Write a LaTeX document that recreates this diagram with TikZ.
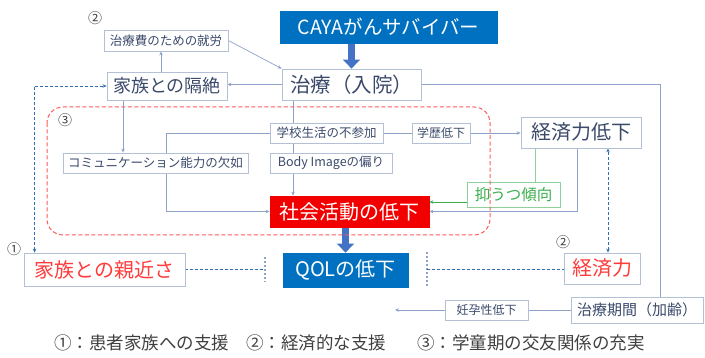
\documentclass[tikz,border=0pt]{standalone}
\usepackage{fontspec}
\setmainfont{Noto Sans CJK JP}
\usetikzlibrary{arrows.meta,calc}
\pgfdeclarelayer{bg}
\pgfsetlayers{bg,main}
\definecolor{boxc}{HTML}{B4C0D6}
\definecolor{textc}{HTML}{3B4A6B}
\definecolor{linec}{HTML}{8EA2C8}
\definecolor{bluefill}{HTML}{0070C0}
\definecolor{redfill}{HTML}{F20000}
\definecolor{redtext}{HTML}{FF3B3B}
\definecolor{greentext}{HTML}{3CB050}
\definecolor{greenbox}{HTML}{8FD19A}
\definecolor{dashblue}{HTML}{2F6DB5}
\definecolor{arrowblue}{HTML}{4472C4}
\definecolor{reddash}{HTML}{FF5A5A}
\definecolor{labc}{HTML}{404040}
\newcommand{\fs}[1]{\fontsize{#1}{#1}\selectfont}
\begin{document}
\begin{tikzpicture}[x=1pt,y=-1pt,
  bx/.style={draw=boxc, line width=0.8pt, fill=white, inner sep=0pt, text=textc},
  arr/.style={draw=linec, line width=0.7pt, -{Stealth[length=4pt,width=3.5pt]}},
  ln/.style={draw=linec, line width=0.7pt},
  fat/.style={draw=arrowblue, line width=7pt, -{Triangle[length=9pt,width=17pt]}},
  dsh/.style={draw=dashblue, line width=0.8pt, dash pattern=on 3pt off 2pt},
  bar/.style={draw=linec, line width=1.3pt, dash pattern=on 2pt off 2pt},
  lab/.style={text=labc, font=\fs{14}, inner sep=0pt}]
\useasboundingbox (0,0) rectangle (705,358);
% nodes
\node[bx, fill=bluefill, draw=bluefill, text=white, minimum width=217pt, minimum height=32pt, font=\fs{19.5}] (caya) at (388.5,27) {CAYAがんサバイバー};
\node[bx, minimum width=139pt, minimum height=31pt, font=\fs{20.5}] (chiryo) at (351.5,84.5) {治療（入院）};
\node[bx, minimum width=124pt, minimum height=21pt, font=\fs{12.5}] (hiyo) at (166,40.5) {治療費のための就労};
\node[bx, minimum width=120pt, minimum height=28pt, font=\fs{18}] (zetsu) at (167,86) {家族との隔絶};
\node[bx, minimum width=185pt, minimum height=20pt, font=\fs{12.5}] (comm) at (155.5,163) {コミュニケーション能力の欠如};
\node[bx, minimum width=113pt, minimum height=20pt, font=\fs{12.5}] (gakko) at (326.5,133) {学校生活の不参加};
\node[bx, minimum width=122pt, minimum height=20pt, font=\fs{12.5}] (body) at (331,163) {Body Imageの偏り};
\node[bx, minimum width=58pt, minimum height=20pt, font=\fs{12}] (gakureki) at (441,133) {学歴低下};
\node[bx, minimum width=120pt, minimum height=31pt, font=\fs{20}] (kteika) at (581,132.5) {経済力低下};
\node[bx, fill=redfill, draw=redfill, text=white, minimum width=159pt, minimum height=31pt, font=\fs{20}] (shakai) at (349.5,211.5) {社会活動の低下};
\node[bx, draw=greenbox, text=greentext, minimum width=93pt, minimum height=25pt, font=\fs{15.5}] (yoku) at (513.5,194.5) {抑うつ傾向};
\node[bx, fill=bluefill, draw=bluefill, text=white, minimum width=125pt, minimum height=34pt, font=\fs{20}] (qol) at (345.5,270) {QOLの低下};
\node[bx, text=redtext, minimum width=161pt, minimum height=33pt, font=\fs{20}] (shin) at (104.5,269.5) {家族との親近さ};
\node[bx, text=redtext, minimum width=76pt, minimum height=31pt, font=\fs{20}] (keizai) at (602,268.5) {経済力};
\node[bx, minimum width=132pt, minimum height=26pt, font=\fs{15}] (kikan) at (637,310) {治療期間（加齢）};
\node[bx, minimum width=83pt, minimum height=20pt, font=\fs{12}] (ninyo) at (486.5,310) {妊孕性低下};
% circled labels
\node[lab] (l2a) at (95,18) {②};
\node[lab] (l3) at (65,120) {③};
\node[lab] (l1) at (14,249) {①};
\node[lab] (l2b) at (563,242) {②};
% free coordinates
\coordinate (barL) at (265,269.5);
\coordinate (barR) at (427,269);
\coordinate (nend) at (395,310);
% connectors
\begin{pgfonlayer}{bg}
\draw[fat] (chiryo.north |- caya.south) -- (chiryo.north);
\draw[fat] (345.5,0 |- shakai.south) -- (qol.north);
\draw[arr] (chiryo.west) -- (chiryo.west -| zetsu.east);
\draw[arr] (161,0 |- zetsu.north) -- (161,0 |- hiyo.south);
\draw[arr] (hiyo.east) -- (chiryo.north west);
\draw[arr] (123,0 |- zetsu.south) -- (123,0 |- comm.north);
\draw[arr] (293,0 |- chiryo.south) -- (293,0 |- shakai.north);
\draw[ln] (gakko.west) -| (166,0 |- comm.north);
\draw[arr] (166,0 |- comm.south) |- (shakai.west);
\draw[ln] (gakko.east) -- (gakureki.west);
\draw[arr] (gakureki.east) -- (gakureki.east -| kteika.west);
\draw[draw=greenbox, line width=0.7pt] (535,0 |- kteika.south) -- (535,0 |- yoku.north);
\draw[draw=greentext, line width=0.7pt, -{Stealth[length=4pt,width=3.5pt]}] (yoku.west |- 0,202) -- (shakai.east |- 0,202);
\draw[arr] (577,0 |- kteika.south) |- (shakai.east);
\draw[dsh, {Stealth[length=4pt,width=3.5pt]}-{Stealth[length=4pt,width=3.5pt]}] ([xshift=11pt]shin.north west) |- (zetsu.west);
\draw[dsh] (shin.east) -- (barL);
\draw[bar] (265,257) -- (barL) -- (265,282);
\draw[bar] (427,252) -- (barR) -- (427,287);
\draw[dsh] (barR) -- (barR -| keizai.west);
\draw[dsh, {Stealth[length=4pt,width=3.5pt]}-{Stealth[length=4pt,width=3.5pt]}] (608,0 |- keizai.north) -- (608,0 |- kteika.south);
\draw[ln] (chiryo.east) -| (660,0 |- kikan.north);
\draw[ln] (kikan.west) -- (ninyo.east);
\draw[arr] (ninyo.west) -- (nend);
\end{pgfonlayer}
% red dashed region
\draw[draw=reddash, line width=1pt, dash pattern=on 4pt off 2.5pt, rounded corners=16pt] (47,107) rectangle (490,235);
% legend
\node[anchor=west, inner sep=0pt, text=labc, font=\fs{17.5}] (lg1) at (54,343) {①：患者家族への支援};
\node[anchor=west, inner sep=0pt, text=labc, font=\fs{17.5}] (lg2) at (246,343) {②：経済的な支援};
\node[anchor=west, inner sep=0pt, text=labc, font=\fs{17.5}] (lg3) at (417,343) {③：学童期の交友関係の充実};
\end{tikzpicture}
\end{document}
